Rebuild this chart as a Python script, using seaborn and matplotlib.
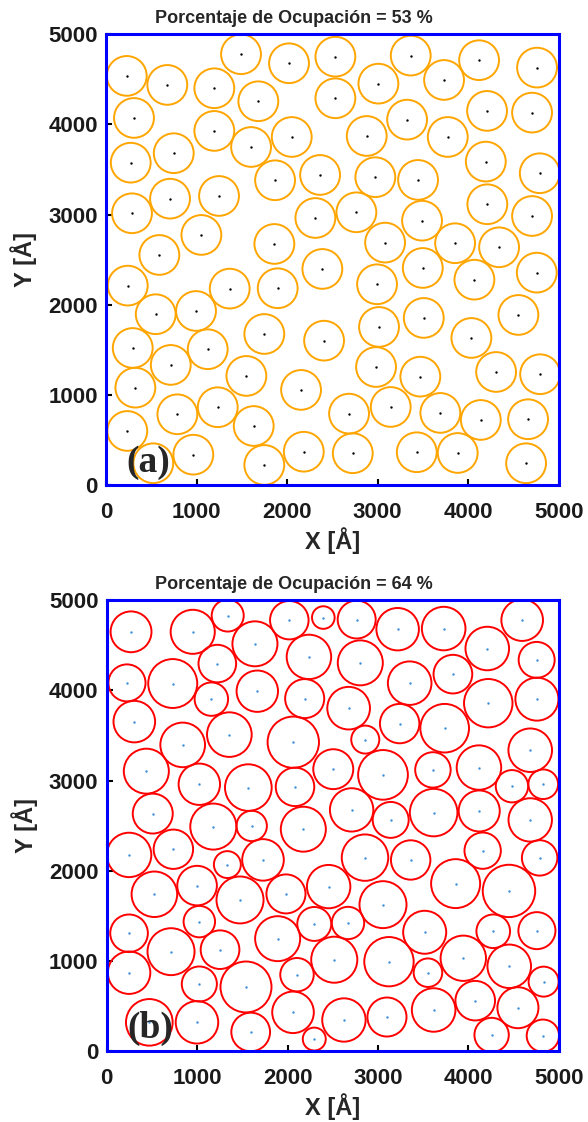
import matplotlib
matplotlib.use("Agg")
import matplotlib.pyplot as plt
from matplotlib.patches import Circle
import seaborn as sns

# Panel (a): equal-size particles, radius in Angstrom
a_radius = 220
a_x = [1491, 2021, 229, 677, 1196, 1682, 2533, 2533, 309, 1196, 1602, 2051, 748, 273, 1867, 2364, 707, 1248, 287, 2312, 1053, 1859, 589,
       3365, 4120, 4760, 3008, 3733, 4208, 4705, 3325, 2879, 3774, 2974, 3446, 4194, 4790, 4211, 4705, 2765, 3490, 3082, 3855, 4341,
       2389, 240, 1366, 1896, 549, 994, 1748, 2408, 295, 1123, 715, 1550, 324, 2154, 1234, 788, 235, 1631, 964, 522, 1748, 2184,
       2993, 3498, 4068, 4757, 3015, 3509, 4554, 4035, 2982, 3471, 4308, 4794, 2684, 3144, 3692, 4139, 4661, 2725, 3432, 3884, 4639]
a_y = [4778, 4678, 4538, 4438, 4401, 4257, 4751, 4290, 4072, 3928, 3750, 3861, 3681, 3576, 3381, 3440, 3177, 3207, 3015, 2963, 2775, 2675, 2553,
       4763, 4712, 4630, 4452, 4493, 4150, 4131, 4053, 3872, 3861, 3415, 3385, 3588, 3459, 3115, 2985, 3026, 2933, 2690, 2683, 2638,
       2398, 2213, 2180, 2184, 1896, 1932, 1677, 1603, 1522, 1508, 1334, 1212, 1082, 1057, 865, 787, 602, 657, 339, 244, 225, 372,
       2228, 2409, 2279, 2357, 1755, 1855, 1888, 1633, 1311, 1204, 1256, 1231, 794, 868, 802, 724, 732, 355, 366, 358, 244]

# Panel (b): polydisperse particles
b_x = [269, 951, 1338, 1639, 2019, 2395, 2236, 1223, 224, 730, 1157, 1665, 2189, 305, 1356, 840, 2063, 438, 1024, 1566, 2082, 509, 1179, 1603, 2174,
       2764, 3217, 3726, 4594, 4208, 4754, 2804, 3350, 3828, 4219, 4757, 2675, 3239, 3737, 2859, 4683, 2505, 3055, 3607, 4116, 4481, 4827, 2708, 3140, 3615, 4119, 4683,
       247, 737, 1334, 1728, 527, 999, 1474, 1982, 2454, 1024, 247, 711, 1253, 1890, 2295, 247, 1024, 1540, 2104, 2516, 471, 998, 1592, 2060, 2295,
       2856, 3361, 4157, 4787, 3055, 3858, 4448, 2668, 3516, 4274, 4757, 3121, 3552, 3943, 4451, 4831, 2623, 3099, 3615, 4075, 4547, 4256, 4823]
b_y = [4648, 4648, 4828, 4515, 4777, 4806, 4370, 4296, 4082, 4075, 3902, 3990, 3908, 3653, 3509, 3395, 3425, 3104, 2959, 2922, 2930, 2634, 2490, 2497, 2461,
       4784, 4677, 4684, 4777, 4463, 4337, 4304, 4079, 4179, 3857, 3902, 3802, 3631, 3580, 3454, 3336, 3126, 3063, 3118, 3144, 2937, 2959, 2675, 2564, 2645, 2663, 2564,
       2176, 2239, 2069, 2121, 1740, 1836, 1677, 1744, 1825, 1437, 1308, 1104, 1126, 1248, 1411, 871, 746, 713, 849, 1015, 321, 321, 214, 432, 136,
       2146, 2120, 2223, 2143, 1625, 1858, 1777, 1422, 1319, 1330, 1337, 993, 871, 1031, 942, 772, 347, 380, 458, 561, 483, 181, 173]
b_r = [226, 244, 177, 249, 213, 125, 246, 208, 205, 271, 185, 229, 216, 230, 247, 247, 284, 249, 229, 258, 213, 221, 255, 168, 249,
       210, 235, 241, 230, 241, 199, 249, 241, 214, 268, 238, 236, 218, 269, 155, 241, 221, 275, 196, 246, 179, 164, 240, 199, 263, 227, 240,
       246, 218, 149, 230, 252, 219, 260, 216, 240, 174, 208, 260, 214, 249, 188, 235, 194, 282, 185, 255, 258, 235, 214, 230, 127,
       257, 218, 201, 196, 260, 271, 290, 179, 238, 186, 205, 273, 158, 251, 241, 166, 240, 216, 241, 219, 227, 190, 179]

ticks = [0, 1000, 2000, 3000, 4000, 5000]
tick_labels = ["0", "1000", "2000", "3000", "4000", "5000"]
titles = ["Porcentaje de Ocupación = 53 %", "Porcentaje de Ocupación = 64 %"]
tags = ["(a)", "(b)"]

sns.set_style("white")
plt.rcParams["font.family"] = ["Liberation Sans", "DejaVu Sans"]

fig = plt.figure(figsize=(5.88, 11.22), dpi=100)
ax_a = fig.add_axes([0.1803, 0.5675, 0.770, 0.402])
ax_b = fig.add_axes([0.1815, 0.0630, 0.769, 0.4022])


def draw_panel(ax, xs, ys, rs, edge, dot, title, tag):
    for x, y, r in zip(xs, ys, rs):
        ax.add_patch(Circle((x, y), r, fill=False, edgecolor=edge, linewidth=1.4, zorder=2))
    sns.scatterplot(x=xs, y=ys, ax=ax, color=dot, s=3, linewidth=0, zorder=3, legend=False)
    ax.set_xlim(0, 5000)
    ax.set_ylim(0, 5000)
    ax.set_xticks(ticks)
    ax.set_yticks(ticks)
    ax.set_xticklabels(tick_labels, fontweight="bold", fontsize=16)
    ax.set_yticklabels(tick_labels, fontweight="bold", fontsize=16)
    ax.tick_params(axis="both", direction="in", length=4, width=1.5, color="black",
                   bottom=True, left=True, top=False, right=False, labelcolor="#1a1a1a")
    ax.tick_params(axis="x", pad=12)
    ax.tick_params(axis="y", pad=6)
    for s in ax.spines.values():
        s.set_color("#0000ff")
        s.set_linewidth(2.2)
        s.set_zorder(5)
    ax.set_xlabel("X [Å]", fontweight="bold", fontsize=17, labelpad=3)
    ax.set_ylabel("Y [Å]", fontweight="bold", fontsize=17, labelpad=8)
    # title centred on the figure rather than on the axes
    ax.set_title(title, fontweight="bold", fontsize=13, pad=8, x=0.415)
    ax.text(0.045, 0.012, tag, transform=ax.transAxes, fontsize=27, fontweight="bold",
            family=["Liberation Serif", "DejaVu Serif"], ha="left", va="bottom", zorder=4)


draw_panel(ax_a, a_x, a_y, [a_radius] * len(a_x), "#ffa500", "black", titles[0], tags[0])
draw_panel(ax_b, b_x, b_y, b_r, "#ff0000", "#3a8fd8", titles[1], tags[1])

fig.savefig("out.png", dpi=100)
